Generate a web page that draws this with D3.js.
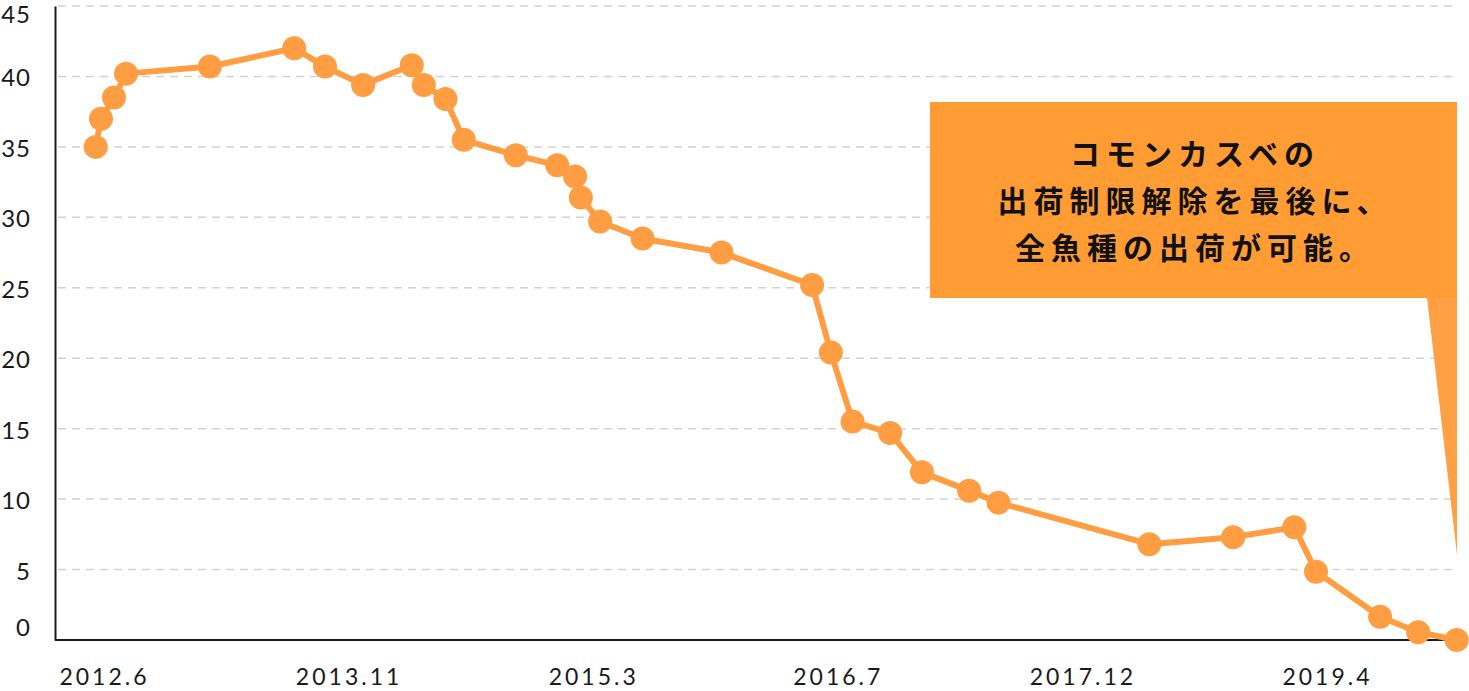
<!DOCTYPE html>
<html><head><meta charset="utf-8">
<script src="https://cdn.jsdelivr.net/npm/d3@7"></script>
<style>body{margin:0;background:#fff;} svg{display:block}</style>
</head><body><svg id="c" width="1469" height="691"></svg>
<script>
// ---- data ----
const dates = ["2012-06-01","2012-06-12","2012-07-09","2012-08-03","2013-01-24","2013-07-18","2013-09-20","2013-12-08",
  "2014-03-19","2014-04-13","2014-05-28","2014-07-05","2014-10-21","2015-01-15","2015-02-21","2015-03-05","2015-04-14",
  "2015-07-11","2015-12-22","2016-06-27","2016-08-05","2016-09-19","2016-12-06","2017-02-10","2017-05-19","2017-07-19",
  "2018-05-28","2018-11-18","2019-03-25","2019-05-09","2019-09-19","2019-12-07","2020-02-25"];
const values = [35.0,37.0,38.5,40.2,40.7,42.0,40.7,39.4,
  40.8,39.4,38.4,35.5,34.4,33.7,32.9,31.4,29.7,
  28.5,27.5,25.2,20.4,15.5,14.7,11.9,10.6,9.75,
  6.8,7.3,8.0,4.85,1.65,0.55,0];
const yTicks = [0,5,10,15,20,25,30,35,40,45];
const xLabels = ["2012.6","2013.11","2015.3","2016.7","2017.12","2019.4"];
const noteLines = ["コモンカスベの","出荷制限解除を最後に、","全魚種の出荷が可能。"];

// ---- scales ----
const parse = d3.timeParse("%Y-%m-%d");
const pts = dates.map((d,i)=>({date:parse(d), v:values[i]}));
const x = d3.scaleTime().domain([parse("2012-06-01"), parse("2020-02-25")]).range([95.7,1456.7]);
const y = d3.scaleLinear().domain([0,45]).range([640,6]);
const xl = d3.scalePoint().domain(xLabels).range([104,1327]);

const svg = d3.select("#c");
const numFont = "Lato, 'Noto Sans', sans-serif";
const orange = "#FF9D42";

// grid
svg.append("g").selectAll("line").data(yTicks.filter(t=>t>0)).join("line")
  .attr("x1",58).attr("x2",1458)
  .attr("y1",d=>y(d)).attr("y2",d=>y(d))
  .attr("stroke","#d2d2d2").attr("stroke-width",1.5).attr("stroke-dasharray","8,6");

// y axis
const ya = svg.append("g").attr("transform","translate(55,0)")
  .call(d3.axisLeft(y).tickValues(yTicks).tickSize(0).tickSizeOuter(0).tickPadding(24));
ya.select(".domain").attr("stroke","#1a1a1a").attr("stroke-width",2);
ya.selectAll("text").attr("font-family",numFont).attr("font-size",24).attr("fill","#1a1a1a")
  .attr("letter-spacing","1px")
  .attr("dy",null).attr("dominant-baseline","central")
  .attr("y",d=> d===0 ? -14 : (d===45 ? 7 : 0));

// x axis
svg.append("line").attr("x1",55).attr("x2",1447).attr("y1",y(0)).attr("y2",y(0))
  .attr("stroke","#1a1a1a").attr("stroke-width",2);
const xa = svg.append("g").attr("transform",`translate(0,${y(0)})`)
  .call(d3.axisBottom(xl).tickSize(0).tickPadding(0));
xa.select(".domain").remove();
xa.selectAll("text").attr("font-family",numFont).attr("font-size",23).attr("fill","#1a1a1a")
  .attr("letter-spacing","3px").attr("dy",null).attr("y",45);

// callout
const g = svg.append("g");
g.append("rect").attr("x",930).attr("y",102).attr("width",527).attr("height",196).attr("fill","#FF9C33");
g.append("path").attr("d","M1427,298L1457,298L1457,555Z").attr("fill","#FFA045");
g.append("g").selectAll("text").data(noteLines).join("text")
  .attr("x",1195).attr("y",(d,i)=>152+i*47)
  .attr("text-anchor","middle").attr("dominant-baseline","central")
  .attr("font-family","'Noto Sans CJK JP', sans-serif").attr("font-weight",700)
  .attr("font-size",30).attr("letter-spacing","6px").attr("fill","#111")
  .text(d=>d);

// line + points
svg.append("path").datum(pts)
  .attr("d",d3.line().x(d=>x(d.date)).y(d=>y(d.v)))
  .attr("fill","none").attr("stroke",orange).attr("stroke-width",6).attr("stroke-linejoin","round");
svg.append("g").selectAll("circle").data(pts).join("circle")
  .attr("cx",d=>x(d.date)).attr("cy",d=>y(d.v)).attr("r",12).attr("fill",orange);
</script></body></html>
